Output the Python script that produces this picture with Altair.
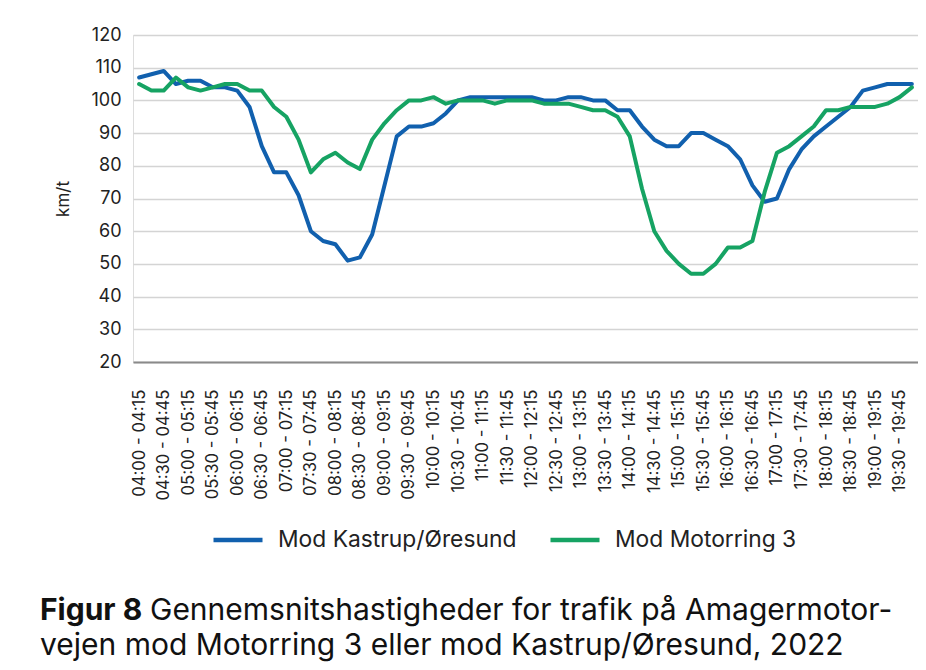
import altair as alt
import pandas as pd

# 15-minute intervals 04:00-20:00
starts = []
for h in range(4, 20):
    for m in (0, 15, 30, 45):
        starts.append((h, m))
categories = []
for h, m in starts:
    eh, em = (h, m + 15) if m < 45 else (h + 1, 0)
    categories.append(f"{h:02d}:{m:02d} - {eh:02d}:{em:02d}")

kastrup = [107, 108, 109, 105, 106, 106, 104, 104, 103, 98,
           86, 78, 78, 71, 60, 57, 56, 51, 52, 59,
           74, 89, 92, 92, 93, 96, 100, 101, 101, 101,
           101, 101, 101, 100, 100, 101, 101, 100, 100, 97,
           97, 92, 88, 86, 86, 90, 90, 88, 86, 82,
           74, 69, 70, 79, 85, 89, 92, 95, 98, 103,
           104, 105, 105, 105]
motorring = [105, 103, 103, 107, 104, 103, 104, 105, 105, 103,
             103, 98, 95, 88, 78, 82, 84, 81, 79, 88,
             93, 97, 100, 100, 101, 99, 100, 100, 100, 99,
             100, 100, 100, 99, 99, 99, 98, 97, 97, 95,
             89, 73, 60, 54, 50, 47, 47, 50, 55, 55,
             57, 72, 84, 86, 89, 92, 97, 97, 98, 98,
             98, 99, 101, 104]

series_names = ["Mod Kastrup/Øresund", "Mod Motorring 3"]
series_colors = ["#1160ae", "#16a363"]
y_ticks = list(range(20, 121, 10))
x_label_values = categories[::2]

caption_bold = "Figur 8"
caption_line1 = "Gennemsnitshastigheder for trafik på Amagermotor-"
caption_line2 = "vejen mod Motorring 3 eller mod Kastrup/Øresund, 2022"

rows = []
for name, vals in zip(series_names, [kastrup, motorring]):
    for c, v in zip(categories, vals):
        rows.append({"interval": c, "speed": v, "series": name})
df = pd.DataFrame(rows)

FONT = "Inter"

lines = alt.Chart(df).mark_line(strokeWidth=4, strokeJoin="round", strokeCap="round").encode(
    x=alt.X("interval:O", sort=categories, title=None,
            axis=alt.Axis(values=x_label_values, labelAngle=270, labelFontSize=16.7,
                          labelPadding=27, ticks=False, domain=True,
                          domainColor="#8a8a8a", domainWidth=2, grid=False,
                          labelColor="#222222", labelFont=FONT)),
    y=alt.Y("speed:Q", title="km/t", scale=alt.Scale(domain=[20, 120], nice=False, zero=False),
            axis=alt.Axis(values=y_ticks, labelFontSize=18, labelPadding=12, ticks=False,
                          domain=False, grid=True, gridColor="#d4d4d4", gridWidth=1.5,
                          labelColor="#222222", labelFont=FONT,
                          titleFontSize=17, titleFontWeight="normal", titleColor="#222222",
                          titleFont=FONT, titlePadding=18)),
    color=alt.Color("series:N",
                    scale=alt.Scale(domain=series_names, range=series_colors),
                    legend=alt.Legend(title=None, orient="none", legendX=78, legendY=478,
                                      direction="horizontal", symbolType="stroke",
                                      symbolSize=2401, symbolStrokeWidth=4.5,
                                      labelFontSize=22.8, labelFont=FONT, labelColor="#222222",
                                      labelOffset=13, columnPadding=24, labelLimit=400)),
)

cap_bold = alt.Chart(pd.DataFrame({"t": [caption_bold]})).mark_text(
    font=FONT, fontSize=30, fontWeight="bold", align="left", baseline="alphabetic", color="#111111"
).encode(text="t:N", x=alt.value(-93), y=alt.value(585))

cap1 = alt.Chart(pd.DataFrame({"t": [caption_line1]})).mark_text(
    font=FONT, fontSize=30, align="left", baseline="alphabetic", color="#111111"
).encode(text="t:N", x=alt.value(17), y=alt.value(585))

cap2 = alt.Chart(pd.DataFrame({"t": [caption_line2]})).mark_text(
    font=FONT, fontSize=30, align="left", baseline="alphabetic", color="#111111"
).encode(text="t:N", x=alt.value(-93), y=alt.value(620))

chart = alt.layer(lines, cap_bold, cap1, cap2).properties(
    width=785, height=327,
    autosize=alt.AutoSizeParams(type="none"),
    padding={"left": 125, "top": 27, "right": 0, "bottom": 300},
).configure_view(stroke=None).configure(background="white")

chart.save("out.html", embed_options={"renderer": "svg", "actions": False})
